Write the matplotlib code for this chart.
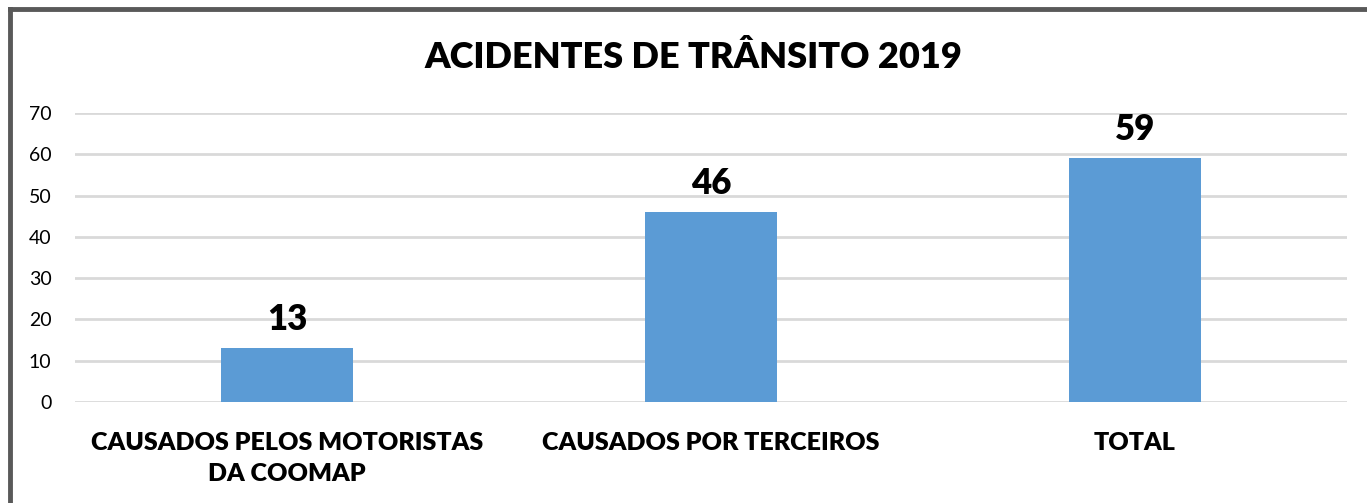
import matplotlib.pyplot as plt
from matplotlib.lines import Line2D

categorias = ["CAUSADOS PELOS MOTORISTAS\nDA COOMAP", "CAUSADOS POR TERCEIROS", "TOTAL"]
valores = [13, 46, 59]
y_ticks = [0, 10, 20, 30, 40, 50, 60, 70]

plt.rcParams["font.family"] = ["Lato", "DejaVu Sans"]

W, H = 1367, 503
fig = plt.figure(figsize=(W / 100, H / 100), dpi=100)
ax = fig.add_axes([75 / W, 1 - 402 / H, (1347 - 75) / W, (402 - 113) / H])

x = range(len(categorias))
barras = ax.bar(x, valores, width=0.31, color="#5b9bd5", zorder=3)
for b, v in zip(barras, valores):
    ax.text(b.get_x() + b.get_width() / 2, v + 3.0, str(v), ha="center", va="bottom",
            fontsize=25, fontweight="heavy")

ax.set_xlim(-0.5, len(categorias) - 0.5)
ax.set_ylim(0, 70)
ax.set_yticks(y_ticks)
ax.set_xticks(list(x))
ax.set_xticklabels(categorias, fontsize=18, fontweight="heavy", linespacing=1.48)
ax.tick_params(axis="y", labelsize=14, length=0, pad=17)
ax.tick_params(axis="x", length=0, pad=21.5)
ax.grid(axis="y", color="#d9d9d9", linewidth=2, zorder=0)
for s in ax.spines.values():
    s.set_visible(False)

fig.text(693 / W, 1 - 57 / H, "ACIDENTES DE TRÂNSITO 2019", ha="center", va="center",
         fontsize=26, fontweight="heavy")

# moldura do gráfico
fig.add_artist(Line2D([10 / W, 10 / W], [0, 1 - 9 / H], color="#595959", linewidth=3.5,
                      transform=fig.transFigure))
fig.add_artist(Line2D([10 / W, 1], [1 - 9 / H, 1 - 9 / H], color="#595959", linewidth=3.5,
                      transform=fig.transFigure))

fig.savefig("out.png", dpi=100)
